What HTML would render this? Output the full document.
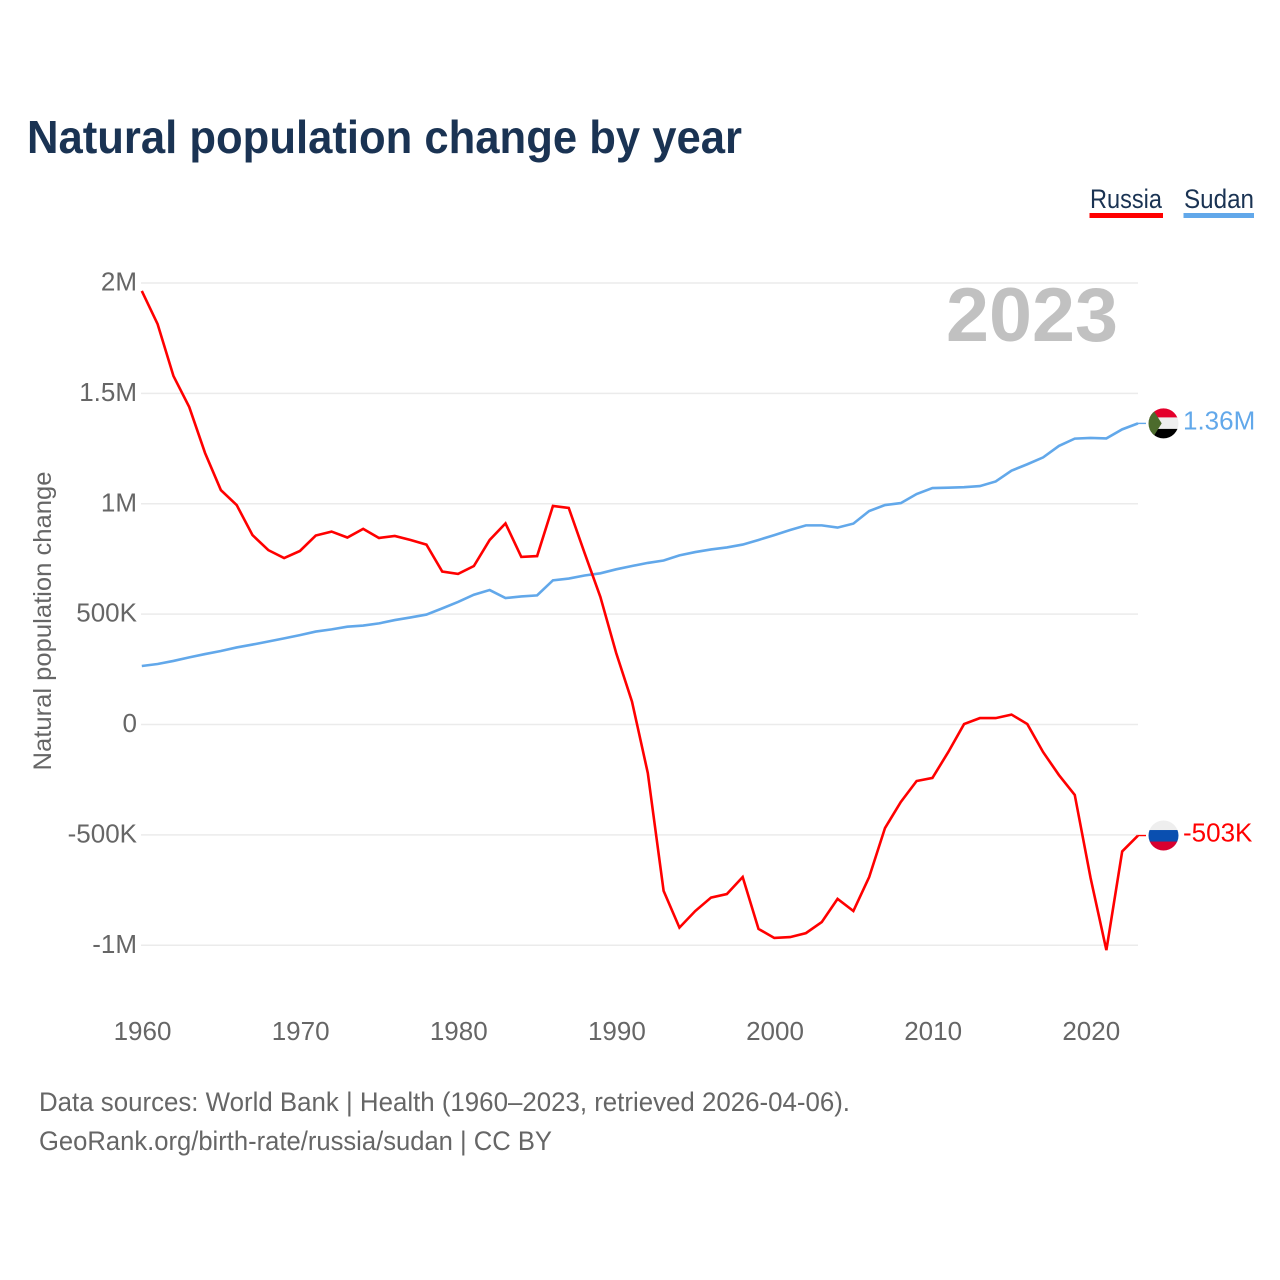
<!DOCTYPE html>
<html lang="en">
<head>
<meta charset="utf-8">
<title>Natural population change by year</title>
<style>
html,body{margin:0;padding:0;background:#fff;width:1280px;height:1280px;overflow:hidden}
svg{display:block;font-family:"Liberation Sans",sans-serif}
</style>
</head>
<body>
<svg id="chart" width="1280" height="1280" viewBox="0 0 1280 1280" xmlns="http://www.w3.org/2000/svg">
  <rect width="1280" height="1280" fill="#ffffff"/>
  <text x="27" y="153" font-size="46" font-weight="700" fill="#1a3353" textLength="715" lengthAdjust="spacingAndGlyphs">Natural population change by year</text>

  <g>
    <text x="1090" y="208" font-size="27" fill="#1a3353" textLength="72" lengthAdjust="spacingAndGlyphs">Russia</text>
    <rect x="1089.5" y="213" width="73.5" height="5" fill="#ff0000"/>
  </g>
  <g>
    <text x="1184" y="208" font-size="27" fill="#1a3353" textLength="70" lengthAdjust="spacingAndGlyphs">Sudan</text>
    <rect x="1183.5" y="213" width="70.5" height="5" fill="#62a8ea"/>
  </g>

  <g id="grid"></g>
  <g id="yticks"></g>
  <g id="xticks"></g>

  <text transform="translate(51,621) rotate(-90)" text-anchor="middle" font-size="25" fill="#666666" textLength="299" lengthAdjust="spacingAndGlyphs">Natural population change</text>

  <text x="946" y="341" font-size="76" font-weight="700" fill="#c1c1c1" textLength="172" lengthAdjust="spacingAndGlyphs">2023</text>

  <g id="series"></g>
  <g id="ends"></g>

  <text x="39" y="1111" font-size="27" fill="#666666" textLength="811" lengthAdjust="spacingAndGlyphs">Data sources: World Bank | Health (1960–2023, retrieved 2026-04-06).</text>
  <text x="39" y="1150" font-size="27" fill="#666666" textLength="513" lengthAdjust="spacingAndGlyphs">GeoRank.org/birth-rate/russia/sudan | CC BY</text>
</svg>
<script>
const years = [1960,1961,1962,1963,1964,1965,1966,1967,1968,1969,1970,1971,1972,1973,1974,1975,1976,1977,1978,1979,1980,1981,1982,1983,1984,1985,1986,1987,1988,1989,1990,1991,1992,1993,1994,1995,1996,1997,1998,1999,2000,2001,2002,2003,2004,2005,2006,2007,2008,2009,2010,2011,2012,2013,2014,2015,2016,2017,2018,2019,2020,2021,2022,2023];
const russiaValues = [1964,1814,1579,1438,1230,1062,994,858,790,754,786,856,874,847,886,845,854,836,815,693,682,718,836,911,759,763,990,981,777,578,324,104,-220,-754,-920,-845,-784,-768,-691,-926,-967,-963,-945,-895,-790,-845,-691,-469,-351,-256,-242,-125,2,29,29,45,2,-125,-229,-319,-695,-1022,-575,-503];
const sudanValues = [265,274,288,304,319,333,349,362,376,390,405,421,431,443,448,458,473,485,498,526,555,588,609,573,580,585,653,661,675,685,703,718,732,743,766,781,793,802,815,836,858,881,902,902,892,910,967,994,1003,1044,1071,1073,1075,1080,1101,1150,1179,1210,1262,1295,1298,1296,1337,1364];
const yTickValues = [2000,1500,1000,500,0,-500,-1000];
const yTickLabels = ["2M","1.5M","1M","500K","0","-500K","-1M"];
const xTickValues = [1960,1970,1980,1990,2000,2010,2020];
const russiaEndLabel = "-503K";
const sudanEndLabel = "1.36M";

const NS = "http://www.w3.org/2000/svg";
function xScale(year){ return 141.8 + (year - 1960) * (1138 - 141.8) / 63; }
function yScale(value){ return 724.5 - value * 0.22075; }
function make(tag, attrs, parent){
  const el = document.createElementNS(NS, tag);
  for (const k in attrs) el.setAttribute(k, attrs[k]);
  parent.appendChild(el);
  return el;
}

const grid = document.getElementById("grid");
const yticks = document.getElementById("yticks");
yTickValues.forEach(function(v, i){
  const line = make("line", {x1:141, x2:1138, y1:yScale(v), y2:yScale(v), stroke:"#ebebeb", "stroke-width":1.5}, grid);
  
  
  const t = make("text", {x:137, y:yScale(v)+7.5, "text-anchor":"end", "font-size":26, fill:"#666666"}, yticks);
  
  
  t.textContent = yTickLabels[i];
});

const xticks = document.getElementById("xticks");
xTickValues.forEach(function(yr){
  const t = make("text", {x:xScale(yr)+0.7, y:1040, "text-anchor":"middle", "font-size":26, fill:"#666666"}, xticks);
  
  
  t.textContent = String(yr);
});

const series = document.getElementById("series");
function linePoints(values){
  return values.map(function(v, i){ return xScale(years[i]).toFixed(2) + "," + yScale(v).toFixed(2); }).join(" ");
}
const sudanLine = make("polyline", {points:linePoints(sudanValues), fill:"none", stroke:"#62a8ea", "stroke-width":2.6, "stroke-linejoin":"miter"}, series);


const russiaLine = make("polyline", {points:linePoints(russiaValues), fill:"none", stroke:"#ff0000", "stroke-width":2.6, "stroke-linejoin":"miter"}, series);



const ends = document.getElementById("ends");
const defs = make("defs", {}, ends);
const clip = make("clipPath", {id:"flag-clip"}, defs);
make("circle", {cx:0, cy:0, r:15}, clip);

function endConnector(value, color){
  const y = yScale(value);
  const c = make("line", {x1:1138, x2:1146, y1:y, y2:y, stroke:color, "stroke-width":1.4}, ends);
  return c;
}
function endLabel(value, text, color){
  const t = make("text", {x:1183, y:yScale(value)+6, "font-size":26, fill:color}, ends);
  t.textContent = text;
  return t;
}
function flagGroup(value){
  return make("g", {transform:"translate(1163.5," + yScale(value).toFixed(2) + ")", "clip-path":"url(#flag-clip)"}, ends);
}

const sudanLast = sudanValues[sudanValues.length - 1];
const russiaLast = russiaValues[russiaValues.length - 1];

const sudanConnector = endConnector(sudanLast, "#62a8ea");


const russiaConnector = endConnector(russiaLast, "#ff0000");



const sudanFlag = flagGroup(sudanLast);


make("rect", {x:-15, y:-15.5, width:30, height:10, fill:"#e4002b"}, sudanFlag);
make("rect", {x:-15, y:-6, width:30, height:12, fill:"#eeeeee"}, sudanFlag);
make("rect", {x:-15, y:5.5, width:30, height:10, fill:"#000000"}, sudanFlag);
make("polygon", {points:"-16,-22.6 -1.8,0 -16,22.6", fill:"#4c6b2c"}, sudanFlag);

const russiaFlag = flagGroup(russiaLast);


make("rect", {x:-15, y:-15.5, width:30, height:10.5, fill:"#eeeeee"}, russiaFlag);
make("rect", {x:-15, y:-5.5, width:30, height:12, fill:"#0a4fb0"}, russiaFlag);
make("rect", {x:-15, y:6, width:30, height:10, fill:"#d8002f"}, russiaFlag);

const sudanValueLabel = endLabel(sudanLast, sudanEndLabel, "#62a8ea");


const russiaValueLabel = endLabel(russiaLast, russiaEndLabel, "#ff0000");


</script>
</body>
</html>
